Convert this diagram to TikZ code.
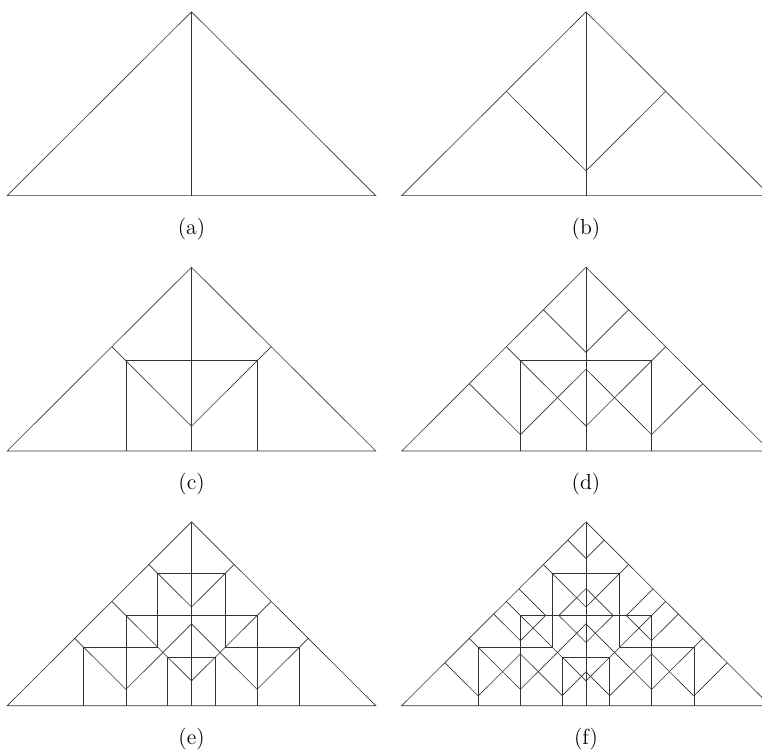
\documentclass[tikz,border=0pt]{standalone}
\usepackage{tikz}

% stages of the subdivision (half base = 1, height = 1)
\newcommand{\stageA}{%
	\draw (-1,0) -- (0,1) -- (1,0) -- cycle;
	\draw (0,0) -- (0,1);
}
\newcommand{\stageB}{%
	\draw (-0.4325,0.5675) -- (0,0.135) -- (0.4325,0.5675);
}
\newcommand{\stageC}{%
	\draw (-0.356,0) -- (-0.356,0.491) -- (0.356,0.491) -- (0.356,0);
}
\newcommand{\stageD}{%
	\draw (-0.2315,0.7685) -- (0,0.537) -- (0.2315,0.7685);
	\draw (-0.6335,0.3665) -- (-0.356,0.089) -- (0,0.445) -- (0.356,0.089) -- (0.6335,0.3665);
}
\newcommand{\stageE}{%
	\draw (-0.183,0.318) -- (-0.183,0.720) -- (0.183,0.720) -- (0.183,0.318);
	\draw (-0.585,0) -- (-0.585,0.318) -- (-0.183,0.318);
	\draw (0.585,0) -- (0.585,0.318) -- (0.183,0.318);
	\draw (-0.129,0) -- (-0.129,0.264) -- (0.129,0.264) -- (0.129,0);
}
\newcommand{\stageF}{%
	\draw (-0.099,0.901) -- (0,0.802) -- (0.099,0.901);
	\draw (0,0.638) -- (-0.147,0.491) -- (0,0.344) -- (0.147,0.491) -- cycle;
	\draw (-0.364,0.636) -- (-0.219,0.491) -- (-0.356,0.354) -- (-0.501,0.499);
	\draw (0.364,0.636) -- (0.219,0.491) -- (0.356,0.354) -- (0.501,0.499);
	\draw (-0.766,0.234) -- (-0.585,0.053) -- (-0.356,0.282) -- (-0.129,0.055) -- (0,0.184)
		-- (0.129,0.055) -- (0.356,0.282) -- (0.585,0.053) -- (0.766,0.234);
}

\begin{document}
\begin{tikzpicture}[
		x=0.0193cm, y=0.0193cm,
		line width=0.35pt, draw=black!80,
		panel/.style 2 args={shift={(#1,#2)}, x=3.557cm, y=3.547cm},
		caption/.style={font=\large, inner sep=0pt}
		]
		
		\useasboundingbox (0,0) rectangle (762,750);
		
		% --------------------------------------------------
		% First row
		% --------------------------------------------------
		\begin{scope}[panel={191.5}{554.4}]
			\stageA
			\node[caption] (capA) at (0,-0.18) {(a)};
		\end{scope}
		
		\begin{scope}[panel={586}{554.4}]
			\stageA
			\stageB
			\node[caption] (capB) at (0,-0.18) {(b)};
		\end{scope}
		
		% --------------------------------------------------
		% Second row
		% --------------------------------------------------
		\begin{scope}[panel={191.5}{299}]
			\stageA
			\stageB
			\stageC
			\node[caption] (capC) at (0,-0.18) {(c)};
		\end{scope}
		
		\begin{scope}[panel={586}{299}]
			\stageA
			\stageB
			\stageC
			\stageD
			\node[caption] (capD) at (0,-0.18) {(d)};
		\end{scope}
		
		% --------------------------------------------------
		% Third row
		% --------------------------------------------------
		\begin{scope}[panel={191.5}{44.3}]
			\stageA
			\stageB
			\stageC
			\stageD
			\stageE
			\node[caption] (capE) at (0,-0.18) {(e)};
		\end{scope}
		
		\begin{scope}[panel={586}{44.3}]
			\stageA
			\stageB
			\stageC
			\stageD
			\stageE
			\stageF
			\node[caption] (capF) at (0,-0.18) {(f)};
		\end{scope}
		
	\end{tikzpicture}
\end{document}
